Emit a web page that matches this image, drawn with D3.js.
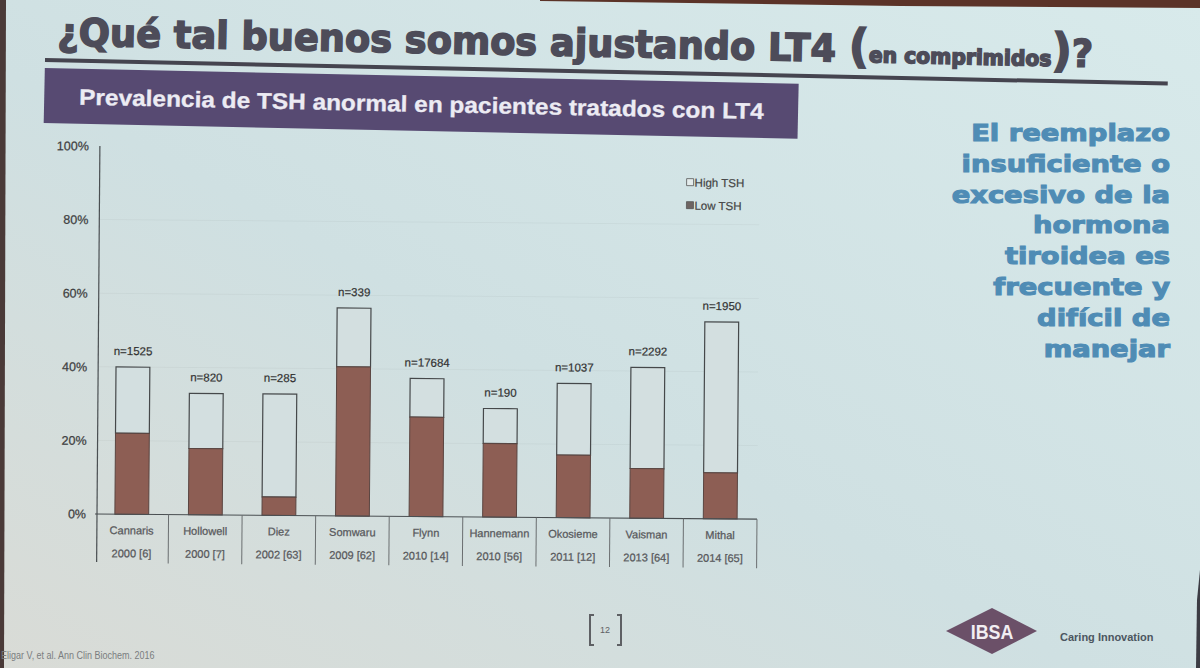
<!DOCTYPE html>
<html>
<head>
<meta charset="utf-8">
<script src="https://cdn.jsdelivr.net/npm/d3@7"></script>
<style>
  body { margin: 0; background: #d3e3e5; }
  svg { display: block; }
  text { font-family: "Liberation Sans", Arial, sans-serif; }
</style>
</head>
<body>
<svg id="slide" width="1200" height="668"></svg>
<script>
// values (percent of treated patients)
const studies = ["Cannaris", "Hollowell", "Diez", "Somwaru", "Flynn", "Hannemann", "Okosieme", "Vaisman", "Mithal"];
const years = ["2000 [6]", "2000 [7]", "2002 [63]", "2009 [62]", "2010 [14]", "2010 [56]", "2011 [12]", "2013 [64]", "2014 [65]"];
const nLabels = ["n=1525", "n=820", "n=285", "n=339", "n=17684", "n=190", "n=1037", "n=2292", "n=1950"];
const lowTSH = [22, 18, 5, 40.5, 27, 20, 17, 13.5, 12.5];
const highTSH = [18, 15, 28, 16, 10.5, 9.5, 19.5, 27.5, 41];
const yTicks = [0, 20, 40, 60, 80, 100];
const legendItems = ["High TSH", "Low TSH"];
const sideText = ["El reemplazo", "insuficiente o", "excesivo de la", "hormona", "tiroidea es", "frecuente y", "difícil de", "manejar"];

const svg = d3.select("#slide");

// background of the projected slide
const defs = svg.append("defs");
const grad = defs.append("linearGradient")
  .attr("id", "bg")
  .attr("x1", 0).attr("y1", 1).attr("x2", 1).attr("y2", 0);
grad.append("stop").attr("offset", "0%").attr("stop-color", "#d9dbd6");
grad.append("stop").attr("offset", "45%").attr("stop-color", "#cfe0e2");
grad.append("stop").attr("offset", "100%").attr("stop-color", "#d8eaeb");
svg.append("rect").attr("width", 1200).attr("height", 668).attr("fill", "url(#bg)");

// dark edges outside the projection
svg.append("polygon").attr("points", "540,0 1200,0 1200,8 900,6 540,1").attr("fill", "#5b3328");
svg.append("polygon").attr("points", "0,0 6,0 4,668 0,668").attr("fill", "#4a3a38");
svg.append("polygon").attr("points", "1200,570 1200,668 1196,668 1197,600").attr("fill", "#3c3c44");

// header, tilted like the photo
const header = svg.append("g").attr("transform", "rotate(1.2,45,60)");

const title = header.append("text")
  .attr("fill", "#4d4c59")
  .attr("stroke", "#4d4c59")
  .attr("stroke-width", 1.6)
  .style("font-family", "'DejaVu Sans', sans-serif")
  .style("font-weight", "bold");
title.append("tspan").style("font-size", "38px").text("¿Qué tal buenos somos ajustando LT4 ");
title.append("tspan").style("font-size", "46px").text("(");
title.append("tspan").style("font-size", "21px").text("en comprimidos");
title.append("tspan").style("font-size", "46px").text(")");
title.append("tspan").style("font-size", "38px").text("?");
let tw = title.node().getComputedTextLength();
title.attr("transform", `translate(57,45) scale(${1036 / tw},1)`);

header.append("rect")
  .attr("x", 45).attr("y", 58).attr("width", 1123).attr("height", 4)
  .attr("fill", "#45444f");

header.append("rect")
  .attr("x", 45).attr("y", 68).attr("width", 754).attr("height", 55)
  .attr("fill", "#574a72");

const sub = header.append("text")
  .attr("fill", "#ecebf3")
  .attr("stroke", "#ecebf3")
  .attr("stroke-width", 0.3)
  .style("font-size", "22.5px")
  .style("font-weight", "bold")
  .text("Prevalencia de TSH anormal en pacientes tratados con LT4");
let sw = sub.node().getComputedTextLength();
sub.attr("transform", `translate(80,104) scale(${685 / sw},1)`);

// chart
const chart = svg.append("g").attr("transform", "rotate(0.45,95,514)");

const x = d3.scaleBand().domain(studies).range([95, 757]);
const y = d3.scaleLinear().domain([0, 100]).range([514, 146]);
const barW = x.bandwidth() * 0.46;

chart.append("g")
  .selectAll("line")
  .data(yTicks.slice(1, -1))
  .join("line")
  .attr("x1", 97).attr("x2", 757)
  .attr("y1", d => y(d)).attr("y2", d => y(d))
  .attr("stroke", "#000").attr("stroke-opacity", 0.035);

const yAxis = chart.append("g")
  .attr("transform", "translate(97,0)")
  .call(d3.axisLeft(y).tickValues(yTicks).tickFormat(d => d + "%").tickSize(0).tickPadding(11));
yAxis.select(".domain").remove();
yAxis.selectAll("text")
  .attr("fill", "#3f3f42")
  .attr("stroke", "#3f3f42")
  .attr("stroke-width", 0.25)
  .style("font-size", "12.5px")
  .style("font-family", "'Liberation Sans', Arial, sans-serif");

chart.append("line")
  .attr("x1", 97).attr("x2", 97)
  .attr("y1", y(100)).attr("y2", 562)
  .attr("stroke", "#4a4f52").attr("stroke-width", 1.2);

// stacked bars
const bars = chart.append("g")
  .selectAll("g")
  .data(studies)
  .join("g");

bars.append("rect")
  .attr("x", d => x(d) + (x.bandwidth() - barW) / 2)
  .attr("width", barW)
  .attr("y", (d, i) => y(lowTSH[i] + highTSH[i]))
  .attr("height", (d, i) => y(lowTSH[i]) - y(lowTSH[i] + highTSH[i]))
  .attr("fill", "#d3dfe0")
  .attr("stroke", "#45484a")
  .attr("stroke-width", 1.2);

bars.append("rect")
  .attr("x", d => x(d) + (x.bandwidth() - barW) / 2)
  .attr("width", barW)
  .attr("y", (d, i) => y(lowTSH[i]))
  .attr("height", (d, i) => y(0) - y(lowTSH[i]))
  .attr("fill", "#8d5e54")
  .attr("stroke", "#5a4541")
  .attr("stroke-width", 1);

bars.append("text")
  .attr("x", d => x(d) + x.bandwidth() / 2)
  .attr("y", (d, i) => y(lowTSH[i] + highTSH[i]) - 12)
  .attr("text-anchor", "middle")
  .attr("fill", "#333")
  .attr("stroke", "#333")
  .attr("stroke-width", 0.2)
  .style("font-size", "11.5px")
  .text((d, i) => nLabels[i]);

// baseline and table under the axis
chart.append("line")
  .attr("x1", 95).attr("x2", 757)
  .attr("y1", y(0)).attr("y2", y(0))
  .attr("stroke", "#4a4f52").attr("stroke-width", 1.2);

chart.append("g")
  .selectAll("line")
  .data(studies.slice(1).map(d => x(d)).concat([757]))
  .join("line")
  .attr("x1", d => d).attr("x2", d => d)
  .attr("y1", y(0)).attr("y2", 563)
  .attr("stroke", "#6a6e70").attr("stroke-width", 1);

bars.append("text")
  .attr("x", d => x(d) + x.bandwidth() / 2)
  .attr("y", 534)
  .attr("text-anchor", "middle")
  .attr("fill", "#58595c")
  .attr("stroke", "#58595c")
  .attr("stroke-width", 0.25)
  .style("font-size", "11px")
  .text(d => d);

bars.append("text")
  .attr("x", d => x(d) + x.bandwidth() / 2)
  .attr("y", 557)
  .attr("text-anchor", "middle")
  .attr("fill", "#58595c")
  .attr("stroke", "#58595c")
  .attr("stroke-width", 0.25)
  .style("font-size", "11px")
  .text((d, i) => years[i]);

// legend
const legend = chart.append("g")
  .selectAll("g")
  .data(legendItems)
  .join("g")
  .attr("transform", (d, i) => `translate(684,${178 + i * 23})`);
legend.append("rect")
  .attr("x", 0).attr("y", -4).attr("width", 7).attr("height", 7)
  .attr("fill", (d, i) => i === 0 ? "#e4ecec" : "#6e6462")
  .attr("stroke", "#555").attr("stroke-width", 0.8);
legend.append("text")
  .attr("x", 8).attr("y", 4)
  .attr("fill", "#444")
  .attr("stroke", "#444")
  .attr("stroke-width", 0.2)
  .style("font-size", "11.5px")
  .text(d => d);

// message on the right
svg.append("g")
  .attr("transform", "translate(1170,0) scale(1.19,1) translate(-1170,0)")
  .selectAll("text")
  .data(sideText)
  .join("text")
  .attr("x", 1170)
  .attr("y", (d, i) => 141 + i * 30.8)
  .attr("text-anchor", "end")
  .attr("fill", "#4f8cb5")
  .attr("stroke", "#4f8cb5")
  .attr("stroke-width", 1.1)
  .style("font-family", "'DejaVu Sans', sans-serif")
  .style("font-weight", "bold")
  .style("font-size", "23px")
  .text(d => d);

// footer
svg.append("text")
  .attr("x", 1).attr("y", 659)
  .attr("fill", "#7a7d80")
  .style("font-size", "10px")
  .attr("transform", "translate(1,659) scale(0.9,1) translate(-1,-659)")
  .text("Eligar V, et al. Ann Clin Biochem. 2016");

svg.append("path")
  .attr("d", "M594,615 H590 V645 H594 M617,615 H621 V645 H617")
  .attr("fill", "none").attr("stroke", "#5e6064").attr("stroke-width", 2);
svg.append("text")
  .attr("x", 605).attr("y", 633)
  .attr("text-anchor", "middle")
  .attr("fill", "#5e6064")
  .style("font-size", "9px")
  .text("12");

svg.append("polygon")
  .attr("points", "946,631 992,608 1037,631 992,654")
  .attr("fill", "#6b5068");
svg.append("text")
  .attr("x", 992).attr("y", 639)
  .attr("text-anchor", "middle")
  .attr("fill", "#f2eef2")
  .style("font-size", "21px")
  .style("font-weight", "bold")
  .attr("transform", "translate(992,639) scale(0.85,1) translate(-992,-639)")
  .text("IBSA");
svg.append("text")
  .attr("x", 1060).attr("y", 641)
  .attr("fill", "#4c5660")
  .style("font-size", "11px")
  .style("font-weight", "bold")
  .text("Caring Innovation");
</script>
</body>
</html>
